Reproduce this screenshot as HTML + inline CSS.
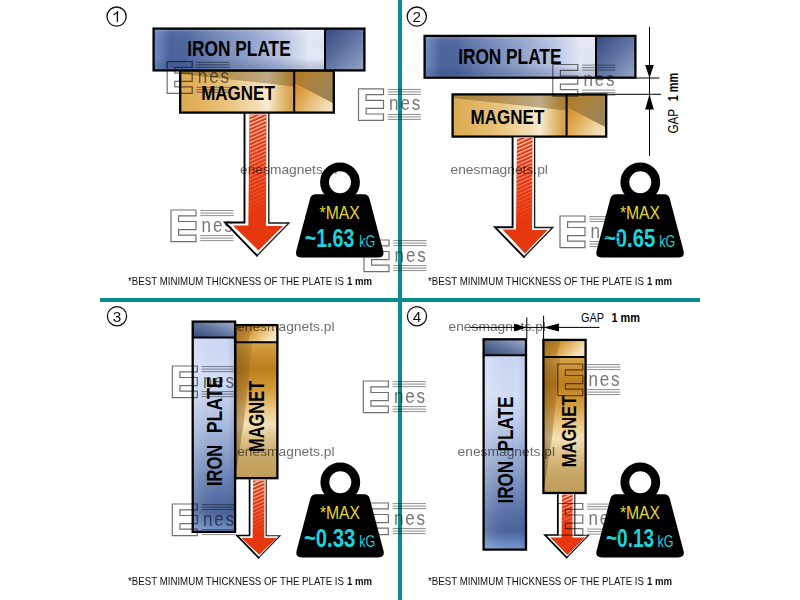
<!DOCTYPE html>
<html>
<head>
<meta charset="utf-8">
<title>Magnet pull force vs. iron plate</title>
<style>
  html, body { margin: 0; padding: 0; background: #ffffff; }
  body { width: 800px; height: 600px; overflow: hidden; font-family: "Liberation Sans", sans-serif; }
  svg { display: block; }
  text { font-family: "Liberation Sans", sans-serif; }
</style>
</head>
<body>
<svg width="800" height="600" viewBox="0 0 800 600">
  <defs>
    <!-- iron plate main face (horizontal orientation, 0..1 left to right) -->
    <linearGradient id="gPlate" x1="0" y1="0" x2="1" y2="0">
      <stop offset="0" stop-color="#6c8cc4"/>
      <stop offset="0.035" stop-color="#5e7cb4"/>
      <stop offset="0.08" stop-color="#4a6399"/>
      <stop offset="0.15" stop-color="#4d669c"/>
      <stop offset="0.3" stop-color="#6f86b6"/>
      <stop offset="0.45" stop-color="#90a2ca"/>
      <stop offset="0.6" stop-color="#b4c1e0"/>
      <stop offset="0.74" stop-color="#e4e9f6"/>
      <stop offset="0.8" stop-color="#e0e6f5"/>
      <stop offset="0.9" stop-color="#c8d4ec"/>
      <stop offset="1" stop-color="#c4d0ea"/>
    </linearGradient>
    <linearGradient id="gPlateV" x1="0" y1="0" x2="0" y2="1">
      <stop offset="0" stop-color="#ffffff" stop-opacity="0.28"/>
      <stop offset="0.1" stop-color="#ffffff" stop-opacity="0.04"/>
      <stop offset="0.7" stop-color="#1c2f60" stop-opacity="0"/>
      <stop offset="0.92" stop-color="#1c2f60" stop-opacity="0.2"/>
      <stop offset="1" stop-color="#9fb6e6" stop-opacity="0.3"/>
    </linearGradient>
    <linearGradient id="gPlateEnd" x1="0" y1="0" x2="1" y2="1">
      <stop offset="0" stop-color="#34497f"/>
      <stop offset="0.45" stop-color="#5b6f9f"/>
      <stop offset="1" stop-color="#97a7c9"/>
    </linearGradient>
    <!-- magnet main face -->
    <linearGradient id="gMag" x1="0" y1="0" x2="1" y2="0">
      <stop offset="0" stop-color="#dcaa52"/>
      <stop offset="0.1" stop-color="#e0b05e"/>
      <stop offset="0.3" stop-color="#e9c27c"/>
      <stop offset="0.5" stop-color="#f4dfb4"/>
      <stop offset="0.57" stop-color="#f8ebd2"/>
      <stop offset="0.68" stop-color="#e0b468"/>
      <stop offset="0.8" stop-color="#c48424"/>
      <stop offset="0.9" stop-color="#cc8c2c"/>
      <stop offset="1" stop-color="#dca448"/>
    </linearGradient>
    <linearGradient id="gMagShade" x1="0" y1="0" x2="0" y2="1">
      <stop offset="0" stop-color="#6b4510" stop-opacity="0.6"/>
      <stop offset="1" stop-color="#6b4510" stop-opacity="0.15"/>
    </linearGradient>
    <linearGradient id="gMagEnd" x1="0" y1="0.3" x2="1" y2="1">
      <stop offset="0" stop-color="#d08a22"/>
      <stop offset="0.35" stop-color="#e2ac58"/>
      <stop offset="0.7" stop-color="#f0d2a0"/>
      <stop offset="1" stop-color="#faecd2"/>
    </linearGradient>
    <linearGradient id="gMagEndShade" x1="0" y1="0" x2="1" y2="0.8">
      <stop offset="0" stop-color="#b27a1e"/>
      <stop offset="0.45" stop-color="#aa8240"/>
      <stop offset="1" stop-color="#98845e"/>
    </linearGradient>

    <linearGradient id="gPlateUp" gradientUnits="userSpaceOnUse" x1="0" y1="16" x2="0" y2="210.3">
      <stop offset="0" stop-color="#cbd7f3"/>
      <stop offset="0.2" stop-color="#d3ddf6"/>
      <stop offset="0.3" stop-color="#c6d2ef"/>
      <stop offset="0.42" stop-color="#b1c0e2"/>
      <stop offset="0.56" stop-color="#93a6ce"/>
      <stop offset="0.7" stop-color="#7188b9"/>
      <stop offset="0.82" stop-color="#566fa6"/>
      <stop offset="0.9" stop-color="#4a639a"/>
      <stop offset="0.95" stop-color="#5f7db6"/>
      <stop offset="1" stop-color="#7c9ad0"/>
    </linearGradient>
    <linearGradient id="gPlateVh" x1="0" y1="0" x2="1" y2="0">
      <stop offset="0" stop-color="#ffffff" stop-opacity="0.18"/>
      <stop offset="0.3" stop-color="#ffffff" stop-opacity="0.05"/>
      <stop offset="0.8" stop-color="#1c2f60" stop-opacity="0.0"/>
      <stop offset="1" stop-color="#1c2f60" stop-opacity="0.12"/>
    </linearGradient>
    <linearGradient id="gPlateEndV" x1="0" y1="1" x2="1" y2="0">
      <stop offset="0" stop-color="#34497f"/>
      <stop offset="0.5" stop-color="#62769f"/>
      <stop offset="1" stop-color="#a4b2d0"/>
    </linearGradient>
    <linearGradient id="gMagUp" gradientUnits="userSpaceOnUse" x1="0" y1="17.2" x2="0" y2="153.1">
      <stop offset="0" stop-color="#d9a64c"/>
      <stop offset="0.1" stop-color="#c78c2c"/>
      <stop offset="0.2" stop-color="#bd7e1c"/>
      <stop offset="0.35" stop-color="#d59c3c"/>
      <stop offset="0.5" stop-color="#ecc98a"/>
      <stop offset="0.6" stop-color="#f3e0b8"/>
      <stop offset="0.72" stop-color="#dcc088"/>
      <stop offset="0.85" stop-color="#c8a868"/>
      <stop offset="1" stop-color="#bf9c58"/>
    </linearGradient>
    <linearGradient id="gMagShadeV" x1="0" y1="0" x2="1" y2="0">
      <stop offset="0" stop-color="#6b4a14" stop-opacity="0.5"/>
      <stop offset="1" stop-color="#6b4a14" stop-opacity="0.18"/>
    </linearGradient>
    <linearGradient id="gMagEndV" x1="0" y1="0" x2="1" y2="0.4">
      <stop offset="0" stop-color="#a8721c"/>
      <stop offset="0.45" stop-color="#d39c3e"/>
      <stop offset="0.8" stop-color="#eccb8a"/>
      <stop offset="1" stop-color="#f7e6bd"/>
    </linearGradient>

    <!-- hatch on arrows -->
    <pattern id="hatch" width="6" height="3.4" patternUnits="userSpaceOnUse" patternTransform="rotate(-24)">
      <rect x="0" y="0" width="6" height="1.15" fill="#ffffff"/>
    </pattern>
    <linearGradient id="gFade" x1="0" y1="0" x2="0" y2="1">
      <stop offset="0" stop-color="#fff" stop-opacity="0.95"/>
      <stop offset="0.3" stop-color="#fff" stop-opacity="0.6"/>
      <stop offset="0.7" stop-color="#fff" stop-opacity="0.2"/>
      <stop offset="1" stop-color="#fff" stop-opacity="0"/>
    </linearGradient>
    <mask id="mFade" maskContentUnits="objectBoundingBox">
      <rect x="0" y="0" width="1" height="1" fill="url(#gFade)"/>
    </mask>

    <!-- horizontal iron plate: 210.8 x 41.8, origin top-left (stroke centre) -->
    <g id="plateH">
      <rect x="0" y="0" width="210.8" height="41.8" fill="url(#gPlate)"/>
      <rect x="0" y="0" width="171.4" height="41.8" fill="url(#gPlateV)"/>
      <rect x="171.4" y="0" width="39.4" height="41.8" fill="url(#gPlateEnd)"/>
      <line x1="171.4" y1="0" x2="171.4" y2="41.8" stroke="#000" stroke-width="2"/>
      <rect x="0" y="0" width="210.8" height="41.8" fill="none" stroke="#000" stroke-width="2.3"/>
    </g>
    <!-- horizontal magnet: 153.6 x 42.2 -->
    <g id="magH">
      <rect x="0" y="0" width="153.6" height="42.2" fill="url(#gMag)"/>
      <polygon points="0,0 114,0 114,16 0,3.5" fill="#5a3c0c" fill-opacity="0.36"/>
      <rect x="114" y="0" width="39.6" height="42.2" fill="url(#gMagEnd)"/>
      <polygon points="114,0 153.6,0 153.6,33 114,12.5" fill="url(#gMagEndShade)"/>
      <line x1="114" y1="0" x2="114" y2="42.2" stroke="#000" stroke-width="2"/>
      <rect x="0" y="0" width="153.6" height="42.2" fill="none" stroke="#000" stroke-width="2.3"/>
    </g>
    <!-- vertical iron plate: 42.4 x 210.3, end cap 16 at the top -->
    <g id="plateV">
      <rect x="0" y="0" width="42.4" height="210.3" fill="url(#gPlateUp)"/>
      <rect x="0" y="16" width="42.4" height="194.3" fill="url(#gPlateVh)"/>
      <rect x="0" y="0" width="42.4" height="16" fill="url(#gPlateEndV)"/>
      <line x1="0" y1="16" x2="42.4" y2="16" stroke="#000" stroke-width="2"/>
      <rect x="0" y="0" width="42.4" height="210.3" fill="none" stroke="#000" stroke-width="2.3"/>
    </g>
    <!-- vertical magnet: 42.2 x 153.1, end cap 17.2 at the top -->
    <g id="magV">
      <rect x="0" y="0" width="42.2" height="153.1" fill="url(#gMagUp)"/>
      <polygon points="0,17.2 17,17.2 9,95 0,153.1" fill="url(#gMagShadeV)"/>
      <rect x="0" y="0" width="42.2" height="17.2" fill="url(#gMagEndV)"/>
      <polygon points="0,0 17,0 13,17.2 0,17.2" fill="#7a4c0a" fill-opacity="0.28"/>
      <line x1="0" y1="17.2" x2="42.2" y2="17.2" stroke="#000" stroke-width="2"/>
      <rect x="0" y="0" width="42.2" height="153.1" fill="none" stroke="#000" stroke-width="2.3"/>
    </g>

    <!-- weight: origin = ring centre -->
    <g id="weight">
      <path d="M -24.5,12 L 24,12 Q 28.3,12 29.5,16.5 L 43.2,68.5 Q 44.8,75.2 38,75.2 L -38.5,75.2 Q -45.3,75.2 -43.7,68.5 L -30,16.5 Q -28.8,12 -24.5,12 Z" fill="#000"/>
      <circle cx="0" cy="0" r="15.45" fill="none" stroke="#000" stroke-width="8.9"/>
      <text x="-20.4" y="36.4" font-size="18.2" fill="#e6d624" textLength="40.2" lengthAdjust="spacingAndGlyphs">*MAX</text>
    </g>

    <!-- Enes watermark logo: origin top-left of E, 62 x 32 -->
    <g id="logo" fill="none" stroke="#707070" stroke-width="1.2">
      <path d="M0,0 H25 V5.8 H7.6 V11.5 H25 V19.6 H7.6 V25.2 H25 V31.6 H0 Z"/>
      <path d="M29.3,0.6 H62.5 M29.3,3.1 H62.5 M29.3,5.6 H62.5 M29.3,25.6 H62.5 M29.3,28.1 H62.5 M29.3,30.6 H62.5" stroke-width="0.8"/>
      <text transform="translate(30.6,21.5) scale(0.88,1)" x="0" y="0" font-size="19.4" fill="#767676" stroke="none" letter-spacing="2.1">nes</text>
    </g>
  </defs>

  <rect x="0" y="0" width="800" height="600" fill="#ffffff"/>

  <!-- ================= Quadrant 1 ================= -->
  <g id="q1">
    <use href="#magH" x="180.2" y="70.4"/>
    <use href="#plateH" x="153.6" y="28.6"/>
    <text x="187.3" y="56.4" font-size="21.2" font-weight="bold" fill="#000" textLength="103.4" lengthAdjust="spacingAndGlyphs">IRON PLATE</text>
    <text x="201.2" y="99.9" font-size="20.8" font-weight="bold" fill="#000" textLength="73.6" lengthAdjust="spacingAndGlyphs">MAGNET</text>
    <!-- arrow -->
    <polygon points="244.5,114.0 244.5,222.5 225.0,222.5 257.0,255.6 289.0,223.0 268.8,223.0 268.8,114.0" fill="#fff"/>
    <polyline points="244.5,114.0 244.5,222.5 225.0,222.5 257.0,255.6" fill="none" stroke="#000" stroke-width="1.9" stroke-linejoin="miter" stroke-linecap="square"/>
    <polyline points="257.0,255.6 289.0,223.0 268.8,223.0 268.8,114.0" fill="none" stroke="#1a1a1a" stroke-width="1.35" stroke-linejoin="miter" stroke-linecap="square"/>
    <polygon points="249.5,114.5 266.5,114.5 266,226 283,226 258.5,250.5 233,225.5 248.3,225.5" fill="#e6380f"/>
    <rect x="249.5" y="114.5" width="17" height="100" fill="url(#hatch)" mask="url(#mFade)"/>
  </g>

  <!-- ================= Quadrant 2 ================= -->
  <g id="q2">
    <use href="#plateH" x="424.6" y="35.9"/>
    <use href="#magH" x="452.6" y="94.4"/>
    <text x="458.2" y="63.8" font-size="21.2" font-weight="bold" fill="#000" textLength="103.2" lengthAdjust="spacingAndGlyphs">IRON PLATE</text>
    <text x="470.5" y="124.3" font-size="20.8" font-weight="bold" fill="#000" textLength="73.8" lengthAdjust="spacingAndGlyphs">MAGNET</text>
    <!-- arrow -->
    <polygon points="512.6,137.5 512.6,227.3 495.0,227.3 524.0,257.0 552.8,227.5 534.6,227.5 534.6,137.5" fill="#fff"/>
    <polyline points="512.6,137.5 512.6,227.3 495.0,227.3 524.0,257.0" fill="none" stroke="#000" stroke-width="1.9" stroke-linejoin="miter" stroke-linecap="square"/>
    <polyline points="524.0,257.0 552.8,227.5 534.6,227.5 534.6,137.5" fill="none" stroke="#1a1a1a" stroke-width="1.35" stroke-linejoin="miter" stroke-linecap="square"/>
    <polygon points="517,138 532.5,138 532,230 547.5,230 525,253.5 502.5,229.5 516,229.5" fill="#e6380f"/>
    <rect x="517" y="138" width="15.5" height="85" fill="url(#hatch)" mask="url(#mFade)"/>
    <!-- gap dimension -->
    <g stroke="#000" stroke-width="1" fill="#000">
      <line x1="649.5" y1="27" x2="649.5" y2="156"/>
      <line x1="636" y1="78" x2="659.5" y2="78"/>
      <line x1="607" y1="94.3" x2="661" y2="94.3"/>
      <polygon points="649.5,78 645.2,65 653.8,65" stroke="none"/>
      <polygon points="649.5,94.3 645.2,109.5 653.8,109.5" stroke="none"/>
    </g>
    <g transform="translate(678.4,133.6) rotate(-90)">
      <text x="0" y="0" font-size="14.8" fill="#000" textLength="24.6" lengthAdjust="spacingAndGlyphs">GAP</text>
      <text x="32.4" y="0" font-size="14.8" font-weight="bold" fill="#000" textLength="28.2" lengthAdjust="spacingAndGlyphs">1 mm</text>
    </g>
  </g>

  <!-- ================= Quadrant 3 ================= -->
  <g id="q3">
    <use href="#magV" x="235.2" y="325.1"/>
    <use href="#plateV" x="192.7" y="321.6"/>
    <g transform="translate(222.4,486) rotate(-90)">
      <text x="0" y="0" font-size="21.4" font-weight="bold" fill="#000" textLength="41.3" lengthAdjust="spacingAndGlyphs">IRON</text>
      <text x="52.7" y="0" font-size="21.4" font-weight="bold" fill="#000" textLength="56.9" lengthAdjust="spacingAndGlyphs">PLATE</text>
    </g>
    <g transform="translate(264.4,452) rotate(-90)">
      <text x="0" y="0" font-size="21.4" font-weight="bold" fill="#000" textLength="71.2" lengthAdjust="spacingAndGlyphs">MAGNET</text>
    </g>
    <!-- arrow -->
    <polygon points="249.6,480.0 249.6,535.5 237.0,535.5 258.7,557.8 280.0,535.7 266.2,535.7 266.2,480.0" fill="#fff"/>
    <polyline points="249.6,480.0 249.6,535.5 237.0,535.5 258.7,557.8" fill="none" stroke="#000" stroke-width="1.7" stroke-linejoin="miter" stroke-linecap="square"/>
    <polyline points="258.7,557.8 280.0,535.7 266.2,535.7 266.2,480.0" fill="none" stroke="#1a1a1a" stroke-width="1.15" stroke-linejoin="miter" stroke-linecap="square"/>
    <polygon points="253,480.5 264.5,480.5 264.3,538 277,538 259.3,554.8 241.3,538 252.6,538" fill="#e6380f"/>
    <rect x="253" y="480.5" width="11.5" height="52" fill="url(#hatch)" mask="url(#mFade)"/>
  </g>

  <!-- ================= Quadrant 4 ================= -->
  <g id="q4">
    <use href="#plateV" x="483.6" y="339.3"/>
    <use href="#magV" x="543.4" y="339.9"/>
    <g transform="translate(513.2,503.6) rotate(-90)">
      <text x="0" y="0" font-size="21.2" font-weight="bold" fill="#000" textLength="42.8" lengthAdjust="spacingAndGlyphs">IRON</text>
      <text x="52.1" y="0" font-size="21.2" font-weight="bold" fill="#000" textLength="55" lengthAdjust="spacingAndGlyphs">PLATE</text>
    </g>
    <g transform="translate(575.8,467.3) rotate(-90)">
      <text x="0" y="0" font-size="20.8" font-weight="bold" fill="#000" textLength="71.8" lengthAdjust="spacingAndGlyphs">MAGNET</text>
    </g>
    <!-- arrow -->
    <polygon points="557.8,494.0 557.8,535.0 545.0,535.0 566.7,557.6 588.6,535.2 574.8,535.2 574.8,494.0" fill="#fff"/>
    <polyline points="557.8,494.0 557.8,535.0 545.0,535.0 566.7,557.6" fill="none" stroke="#000" stroke-width="1.7" stroke-linejoin="miter" stroke-linecap="square"/>
    <polyline points="566.7,557.6 588.6,535.2 574.8,535.2 574.8,494.0" fill="none" stroke="#1a1a1a" stroke-width="1.15" stroke-linejoin="miter" stroke-linecap="square"/>
    <polygon points="562,494.5 572.6,494.5 572.4,537.6 585,537.6 567.5,555 550.3,537.6 561.6,537.6" fill="#e6380f"/>
    <rect x="562" y="494.5" width="10.6" height="38" fill="url(#hatch)" mask="url(#mFade)"/>
    <!-- gap dimension -->
    <g stroke="#000" stroke-width="1" fill="#000">
      <line x1="526.8" y1="317.5" x2="526.8" y2="339"/>
      <line x1="543.6" y1="315.7" x2="543.6" y2="339"/>
      <line x1="470" y1="327.4" x2="599.5" y2="327.4"/>
      <polygon points="526.8,327.5 514,323.7 514,331.3" stroke="none"/>
      <polygon points="543.6,327.5 559,323.4 559,331.6" stroke="none"/>
    </g>
    <text x="581" y="322" font-size="12.6" fill="#000" textLength="23" lengthAdjust="spacingAndGlyphs">GAP</text>
    <text x="611.5" y="322" font-size="12.6" font-weight="bold" fill="#000" textLength="28.5" lengthAdjust="spacingAndGlyphs">1 mm</text>
  </g>

  <!-- ================= weights ================= -->
  <use href="#weight" x="340" y="182.3"/>
  <use href="#weight" x="640.3" y="182.3"/>
  <use href="#weight" x="340.3" y="482.3"/>
  <use href="#weight" x="640.3" y="482.3"/>
  <g fill="#1cd3dc">
    <text x="304.8" y="247.2" font-size="25.2" font-weight="bold" textLength="49.5" lengthAdjust="spacingAndGlyphs">~1.63</text>
    <text x="359.2" y="247.2" font-size="15.6" textLength="16" lengthAdjust="spacingAndGlyphs">kG</text>
    <text x="604" y="247.2" font-size="25.2" font-weight="bold" textLength="51.2" lengthAdjust="spacingAndGlyphs">~0.65</text>
    <text x="659.2" y="247.2" font-size="15.6" textLength="16" lengthAdjust="spacingAndGlyphs">kG</text>
    <text x="304" y="547.2" font-size="25.2" font-weight="bold" textLength="51.2" lengthAdjust="spacingAndGlyphs">~0.33</text>
    <text x="359.2" y="547.2" font-size="15.6" textLength="16" lengthAdjust="spacingAndGlyphs">kG</text>
    <text x="606" y="547.2" font-size="25.2" font-weight="bold" textLength="48" lengthAdjust="spacingAndGlyphs">~0.13</text>
    <text x="657.5" y="547.2" font-size="15.6" textLength="16" lengthAdjust="spacingAndGlyphs">kG</text>
  </g>

  <!-- ================= dividers ================= -->
  <rect x="100" y="298" width="600" height="4" fill="#078c90"/>
  <rect x="398" y="0" width="4" height="600" fill="#078c90"/>

  <!-- ================= watermarks ================= -->
  <g style="mix-blend-mode:multiply">
    <use href="#logo" x="167.2" y="61.7"/>
    <use href="#logo" x="358.5" y="88.8"/>
    <use href="#logo" x="552.8" y="64.5"/>
    <use href="#logo" x="171" y="210"/>
    <use href="#logo" x="364" y="240"/>
    <use href="#logo" x="560" y="216"/>
    <use href="#logo" x="172.3" y="366"/>
    <use href="#logo" x="363.3" y="381"/>
    <use href="#logo" x="557.8" y="364"/>
    <use href="#logo" x="172.3" y="504"/>
    <use href="#logo" x="363.3" y="503"/>
    <use href="#logo" x="557.8" y="503.5"/>
    <g font-size="12.7" fill="#6f6f6f">
      <text x="240" y="173.7" textLength="97.4" lengthAdjust="spacingAndGlyphs">enesmagnets.pl</text>
      <text x="450.5" y="173.7" textLength="97.4" lengthAdjust="spacingAndGlyphs">enesmagnets.pl</text>
      <text x="237.1" y="331.1" textLength="97.4" lengthAdjust="spacingAndGlyphs">enesmagnets.pl</text>
      <text x="448.5" y="331.1" textLength="97.4" lengthAdjust="spacingAndGlyphs">enesmagnets.pl</text>
      <text x="237.2" y="455.6" textLength="97.4" lengthAdjust="spacingAndGlyphs">enesmagnets.pl</text>
      <text x="457.6" y="455.6" textLength="97.4" lengthAdjust="spacingAndGlyphs">enesmagnets.pl</text>
    </g>
  </g>

  <!-- ================= numbers ================= -->
  <g fill="none" stroke="#111" stroke-width="1.3">
    <circle cx="116.6" cy="16.6" r="9.6"/>
    <circle cx="416.8" cy="16.6" r="9.6"/>
    <circle cx="117" cy="316.2" r="9.6"/>
    <circle cx="417" cy="316.2" r="9.6"/>
  </g>
  <g font-size="15.3" fill="#111" text-anchor="middle">
    <path d="M113.5,14.1 Q116.2,12.9 117.2,11.1 H118.1 V21.7 H116.7 V13.6 Q115.4,14.8 113.5,15.5 Z" fill="#111"/>
    <text x="416.8" y="21.8">2</text>
    <text x="117" y="321.5">3</text>
    <text x="417" y="321.5">4</text>
  </g>

  <!-- ================= captions ================= -->
  <g font-size="11.3" fill="#111">
    <text x="128" y="284.5" textLength="216" lengthAdjust="spacingAndGlyphs">*BEST MINIMUM THICKNESS OF THE PLATE IS</text>
    <text x="347" y="284.5" font-weight="bold" textLength="25" lengthAdjust="spacingAndGlyphs">1 mm</text>
    <text x="428" y="284.5" textLength="216" lengthAdjust="spacingAndGlyphs">*BEST MINIMUM THICKNESS OF THE PLATE IS</text>
    <text x="647" y="284.5" font-weight="bold" textLength="25" lengthAdjust="spacingAndGlyphs">1 mm</text>
    <text x="128" y="584.5" textLength="216" lengthAdjust="spacingAndGlyphs">*BEST MINIMUM THICKNESS OF THE PLATE IS</text>
    <text x="347" y="584.5" font-weight="bold" textLength="25" lengthAdjust="spacingAndGlyphs">1 mm</text>
    <text x="428" y="584.5" textLength="216" lengthAdjust="spacingAndGlyphs">*BEST MINIMUM THICKNESS OF THE PLATE IS</text>
    <text x="647" y="584.5" font-weight="bold" textLength="25" lengthAdjust="spacingAndGlyphs">1 mm</text>
  </g>

</svg>
</body>
</html>
